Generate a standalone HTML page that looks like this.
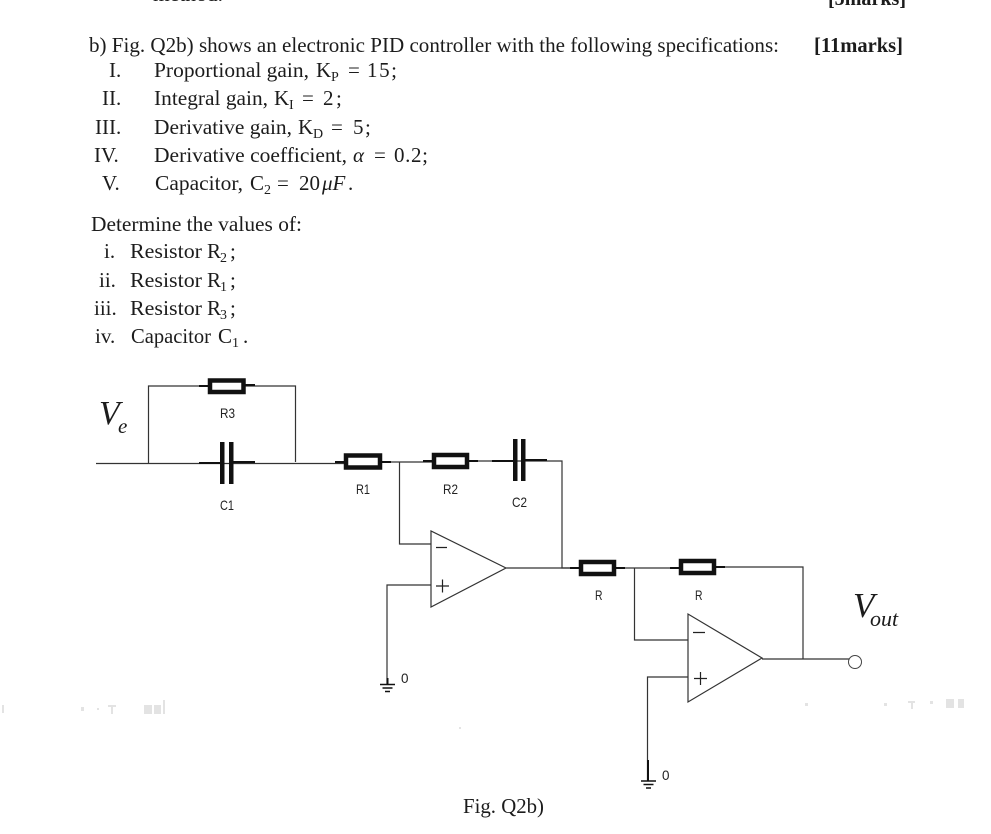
<!DOCTYPE html>
<html>
<head>
<meta charset="utf-8">
<style>
html,body{margin:0;padding:0;background:#fff;width:991px;height:834px;overflow:hidden}
svg{display:block;filter:blur(.35px)}
text{font-family:"Liberation Serif",serif;fill:#1c1c1c}
.t{font-size:21px}
.s{font-size:14px}
.m{font-family:"Liberation Sans",sans-serif;font-size:14px;fill:#222}
.w{fill:none;stroke:#333;stroke-width:1.2}
.l{fill:none;stroke:#111;stroke-width:2}
.r{fill:#fff;stroke:#111;stroke-width:4.5}
.p{fill:#111}
</style>
</head>
<body>
<svg width="991" height="834" viewBox="0 0 991 834" xmlns="http://www.w3.org/2000/svg">
<rect width="991" height="834" fill="#fff"/>
<!-- text block -->
<text class="t" x="153" y="1" textLength="70" lengthAdjust="spacingAndGlyphs">method.</text>
<text class="t" x="828" y="5" font-weight="bold" textLength="78" lengthAdjust="spacingAndGlyphs">[5marks]</text>
<text class="t" x="89" y="52" textLength="690" lengthAdjust="spacingAndGlyphs">b) Fig. Q2b) shows an electronic PID controller with the following specifications:</text>
<text class="t" x="814" y="52" font-weight="bold" textLength="89" lengthAdjust="spacingAndGlyphs">[11marks]</text>

<text class="t" x="109" y="77">I.</text>
<text class="t" x="154" y="77" textLength="155" lengthAdjust="spacingAndGlyphs">Proportional gain,</text>
<text class="t" x="316" y="77">K</text><text class="s" x="331" y="81">P</text>
<text class="t" x="348" y="77">=</text><text class="t" x="367" y="77" textLength="30" lengthAdjust="spacing">15;</text>

<text class="t" x="102" y="105">II.</text>
<text class="t" x="154" y="105" textLength="114" lengthAdjust="spacingAndGlyphs">Integral gain,</text>
<text class="t" x="274" y="105">K</text><text class="s" x="289" y="109">I</text>
<text class="t" x="302" y="105">=</text><text class="t" x="323" y="105">2</text><text class="t" x="336" y="105">;</text>

<text class="t" x="95" y="134">III.</text>
<text class="t" x="154" y="134" textLength="138" lengthAdjust="spacingAndGlyphs">Derivative gain,</text>
<text class="t" x="298" y="134">K</text><text class="s" x="313" y="138">D</text>
<text class="t" x="331" y="134">=</text><text class="t" x="353" y="134">5</text><text class="t" x="365" y="134">;</text>

<text class="t" x="94" y="162">IV.</text>
<text class="t" x="154" y="162" textLength="193" lengthAdjust="spacingAndGlyphs">Derivative coefficient,</text>
<text class="t" x="353" y="162" font-style="italic">α</text>
<text class="t" x="374" y="162">=</text><text class="t" x="394" y="162" textLength="34" lengthAdjust="spacing">0.2;</text>

<text class="t" x="102" y="190">V.</text>
<text class="t" x="155" y="190" textLength="88" lengthAdjust="spacingAndGlyphs">Capacitor,</text>
<text class="t" x="250" y="190">C</text><text class="s" x="264" y="194">2</text>
<text class="t" x="277" y="190">=</text><text class="t" x="299" y="190">20</text>
<text class="t" x="322" y="190" font-style="italic">μF</text>
<text class="t" x="348" y="190">.</text>

<text class="t" x="91" y="231" textLength="211" lengthAdjust="spacingAndGlyphs">Determine the values of:</text>
<text class="t" x="104" y="258">i.</text>
<text class="t" x="130" y="258" textLength="72" lengthAdjust="spacingAndGlyphs">Resistor</text>
<text class="t" x="207" y="258">R</text><text class="s" x="220" y="262">2</text><text class="t" x="230" y="258">;</text>
<text class="t" x="99" y="287">ii.</text>
<text class="t" x="130" y="287" textLength="72" lengthAdjust="spacingAndGlyphs">Resistor</text>
<text class="t" x="207" y="287">R</text><text class="s" x="220" y="291">1</text><text class="t" x="230" y="287">;</text>
<text class="t" x="94" y="315">iii.</text>
<text class="t" x="130" y="315" textLength="72" lengthAdjust="spacingAndGlyphs">Resistor</text>
<text class="t" x="207" y="315">R</text><text class="s" x="220" y="319">3</text><text class="t" x="230" y="315">;</text>
<text class="t" x="95" y="343">iv.</text>
<text class="t" x="131" y="343" textLength="80" lengthAdjust="spacingAndGlyphs">Capacitor</text>
<text class="t" x="218" y="343">C</text><text class="s" x="232" y="347">1</text><text class="t" x="243" y="343">.</text>

<!-- wires -->
<path class="w" d="M96 463.5H344M148.5 463V386H295.5V462"/>
<path class="w" d="M382 462H432M469 461H562V568H579M399.5 462V544H431"/>
<path class="w" d="M431 531V607L506 568ZM506 568H579"/>
<path class="w" d="M431 585H387V684"/>
<path class="w" d="M616 568H679M716 567H803V659M634.5 568V640H688"/>
<path class="w" d="M688 614V702L762 658ZM762 659H849"/>
<path class="w" d="M688 677H647.5V780"/>
<circle cx="855" cy="662" r="6.5" fill="#fff" stroke="#444" stroke-width="1"/>

<!-- R3 -->
<path class="l" d="M199 386H208M245 385H255"/>
<rect class="r" x="210" y="380.500" width="33.500" height="11.500"/>
<!-- C1 -->
<path class="l" d="M199 463H221M232 462H255"/>
<rect class="p" x="220" y="442" width="4.500" height="42"/>
<rect class="p" x="229" y="442" width="4.500" height="42"/>
<!-- R1 -->
<path class="l" d="M335 462H344M382 462H391"/>
<rect class="r" x="346" y="455.500" width="34" height="12"/>
<!-- R2 -->
<path class="l" d="M423 461H432M469 461H478"/>
<rect class="r" x="434" y="455" width="33" height="12"/>
<!-- C2 -->
<path class="l" d="M492 461H514M524 460H547"/>
<rect class="p" x="513" y="439" width="4.500" height="42"/>
<rect class="p" x="521" y="439" width="4.500" height="42"/>
<!-- R lower -->
<path class="l" d="M570 568H579M616 568H625"/>
<rect class="r" x="581" y="562" width="33" height="12"/>
<path class="l" d="M670 568H679M716 567H725"/>
<rect class="r" x="681" y="561" width="33" height="12"/>

<!-- grounds -->
<path class="l" d="M387.500 678V684"/>
<path d="M380 684.500H395M382.500 688H392.500M385 691.500H390" fill="none" stroke="#111" stroke-width="1.5"/>
<path class="l" d="M648 760V781"/>
<path d="M641 781H656M643.500 784.500H653.500M646 788H651" fill="none" stroke="#111" stroke-width="1.5"/>

<!-- op amp signs -->
<path d="M436 547.500H447M436 586H449M442.500 579.500V592.500" fill="none" stroke="#222" stroke-width="1.2"/>
<path d="M693 632.500H705M694 678.500H707M700.500 672V685" fill="none" stroke="#222" stroke-width="1.2"/>

<!-- labels -->
<text class="m" x="220" y="418" textLength="15" lengthAdjust="spacingAndGlyphs">R3</text>
<text class="m" x="220" y="510" textLength="14" lengthAdjust="spacingAndGlyphs">C1</text>
<text class="m" x="356" y="494" textLength="14" lengthAdjust="spacingAndGlyphs">R1</text>
<text class="m" x="443" y="494" textLength="15" lengthAdjust="spacingAndGlyphs">R2</text>
<text class="m" x="512" y="507" textLength="15" lengthAdjust="spacingAndGlyphs">C2</text>
<text class="m" x="595" y="600" textLength="7.500" lengthAdjust="spacingAndGlyphs">R</text>
<text class="m" x="695" y="600" textLength="7.500" lengthAdjust="spacingAndGlyphs">R</text>
<text class="m" x="401" y="683" textLength="7.500" lengthAdjust="spacingAndGlyphs">0</text>
<text class="m" x="662" y="780" textLength="7.500" lengthAdjust="spacingAndGlyphs">0</text>

<text x="99" y="424" font-size="34" font-style="italic">V</text>
<text x="118" y="433" font-size="21" font-style="italic">e</text>
<text x="853" y="617" font-size="35" font-style="italic">V</text>
<text x="870" y="626" font-size="22" font-style="italic">out</text>

<text class="t" x="463" y="813" textLength="81" lengthAdjust="spacingAndGlyphs">Fig. Q2b)</text>

<!-- faint scan marks -->
<g fill="#bbb" opacity=".4">
<rect x="2" y="705" width="2" height="8"/>
<rect x="81" y="707" width="3" height="4"/>
<rect x="97" y="708" width="2" height="2"/>
<rect x="108" y="705" width="8" height="2"/>
<rect x="111" y="707" width="2" height="7"/>
<rect x="144" y="705" width="8" height="9"/>
<rect x="154" y="705" width="7" height="9"/>
<rect x="163" y="700" width="2" height="14"/>
<rect x="805" y="703" width="3" height="3"/>
<rect x="884" y="703" width="3" height="3"/>
<rect x="908" y="701" width="7" height="2"/>
<rect x="911" y="703" width="2" height="6"/>
<rect x="930" y="701" width="3" height="3"/>
<rect x="946" y="699" width="8" height="9"/>
<rect x="958" y="699" width="6" height="9"/>
<rect x="459" y="727" width="2" height="2"/>
</g>
</svg>
</body>
</html>
